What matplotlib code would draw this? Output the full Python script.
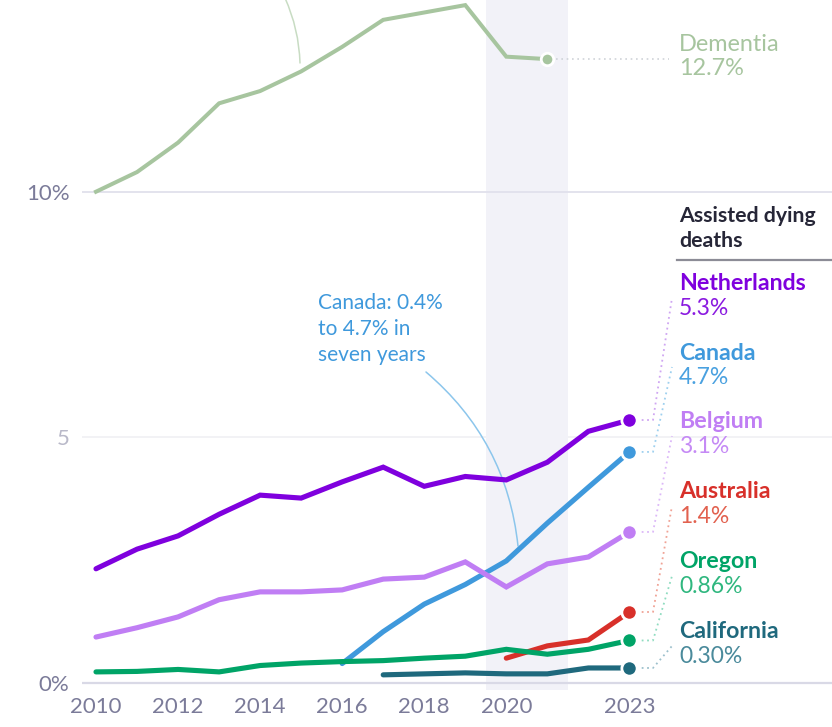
import matplotlib
matplotlib.use("Agg")
import matplotlib.pyplot as plt

plt.rcParams['font.family'] = ['Lato', 'DejaVu Sans']

years = list(range(2010, 2024))
dementia_years = list(range(2010, 2022))
dementia = [10.0, 10.4, 11.0, 11.8, 12.05, 12.45, 12.95, 13.5, 13.65, 13.8, 12.75, 12.7]

netherlands = [2.32, 2.72, 2.99, 3.43, 3.82, 3.76, 4.09, 4.39, 4.0, 4.2, 4.13, 4.49, 5.12, 5.35]
belgium = [0.93, 1.12, 1.34, 1.69, 1.85, 1.85, 1.89, 2.11, 2.15, 2.46, 1.95, 2.42, 2.56, 3.07]
oregon = [0.22, 0.23, 0.27, 0.22, 0.35, 0.40, 0.43, 0.45, 0.50, 0.54, 0.68, 0.58, 0.68, 0.86]
canada_years = list(range(2016, 2024))
canada = [0.39, 1.04, 1.6, 2.0, 2.48, 3.25, 3.98, 4.7]
australia_years = [2020, 2021, 2022, 2023]
australia = [0.5, 0.75, 0.87, 1.44]
california_years = list(range(2017, 2024))
california = [0.16, 0.18, 0.20, 0.18, 0.18, 0.30, 0.30]

series_names = ["Netherlands", "Canada", "Belgium", "Australia", "Oregon", "California"]
series_values_text = ["5.3%", "4.7%", "3.1%", "1.4%", "0.86%", "0.30%"]

xtick_vals = [2010, 2012, 2014, 2016, 2018, 2020, 2023]
ytick_vals = [0, 5, 10]
ytick_labels = ["0%", "5", "10%"]

W, H = 832, 727
fig = plt.figure(figsize=(W / 100, H / 100), dpi=100)

# pixel geometry
x0px, pxyr = 96.0, 41.03
y0px, pxun = 682.7, 49.1
ax_left, ax_right = 82, 832
ylo, yhi = -0.15, 13.9
ax_bot = y0px - ylo * pxun
ax_top = y0px - yhi * pxun
ax = fig.add_axes([ax_left / W, 1 - ax_bot / H, (ax_right - ax_left) / W, (ax_bot - ax_top) / H])
xlo = 2010 + (ax_left - x0px) / pxyr
xhi = 2010 + (ax_right - x0px) / pxyr
ax.set_xlim(xlo, xhi)
ax.set_ylim(ylo, yhi)
for s in ax.spines.values():
    s.set_visible(False)
ax.set_facecolor('none')

def px_x(px):
    return 2010 + (px - x0px) / pxyr

def px_y(py):
    return (y0px - py) / pxun

# gridlines
ax.axhline(10, color='#e1e1ec', lw=1.3, zorder=1)
ax.axhline(5, color='#f1f1f4', lw=1.3, zorder=0.5)
ax.axhline(0, color='#d9d9e6', lw=1.6, zorder=1)

# covid band
ax.axvspan(2019.5, 2021.5, color='#f2f2f8', zorder=0.8, lw=0)

# ticks
ax.set_xticks(xtick_vals)
ax.set_xticklabels([str(v) for v in xtick_vals])
ax.set_yticks(ytick_vals)
ax.set_yticklabels(ytick_labels)
ax.tick_params(axis='both', length=0, labelsize=16, labelcolor='#7b7b99')
ax.tick_params(axis='x', pad=5)
ax.tick_params(axis='y', pad=9)
ax.get_yticklabels()[1].set_color('#b9b9c9')

# colors
c_dem = '#a7c59f'
colors = ['#7f00de', '#3f99dc', '#c07ef4', '#d8302a', '#00a467', '#1f697d']
val_colors = ['#8a1ae0', '#4aa1e0', '#c58af5', '#e2614f', '#2fb77f', '#4a8a9b']
conn_colors = ['#cfa6f2', '#9ed0ef', '#dcb8f8', '#f0a396', '#8fdcc0', '#9cc0cc']

# dementia
ax.plot(dementia_years, dementia, color=c_dem, lw=2.9, solid_joinstyle='miter', zorder=3)
ax.plot([dementia_years[-1]], [dementia[-1]], 'o', color=c_dem, ms=9, mec='white', mew=2, zorder=4)
ax.plot([dementia_years[-1] + 0.2, px_x(669)], [dementia[-1]] * 2, color='#cfd3d8', lw=1.2,
        ls=(0, (1, 2.2)), zorder=2)

all_x = [years, canada_years, years, australia_years, years, california_years]
all_y = [netherlands, canada, belgium, australia, oregon, california]

label_py = [284, 353, 422, 492, 562, 632]
label_x = px_x(679)

for xs, ys, c, vc, cc, name, vt, lpy in zip(all_x, all_y, colors, val_colors, conn_colors,
                                           series_names, series_values_text, label_py):
    ax.plot(xs, ys, color=c, lw=3.7, solid_joinstyle='miter', solid_capstyle='round', zorder=5)
    ax.plot([xs[-1]], [ys[-1]], 'o', color=c, ms=11, mec='white', mew=2, zorder=6)
    # connector
    ax.plot([xs[-1] + 0.3, px_x(653), px_x(672)], [ys[-1], ys[-1], px_y(lpy + 14)],
            color=cc, lw=1.3, ls=(0, (1, 2)), zorder=2, clip_on=False)
    ax.text(label_x, px_y(lpy), name, color=c, fontsize=16.7, fontweight='bold',
            ha='left', va='center', zorder=7)
    ax.text(label_x, px_y(lpy + 24.5), vt, color=vc, fontsize=16.5,
            ha='left', va='center', zorder=7)

# dementia label
ax.text(label_x, px_y(44), "Dementia", color=c_dem, fontsize=16.9, ha='left', va='center')
ax.text(label_x, px_y(68), "12.7%", color=c_dem, fontsize=16.9, ha='left', va='center')

# header
ax.text(label_x, px_y(216), "Assisted dying", color='#262637', fontsize=15.3, fontweight='bold',
        ha='left', va='center')
ax.text(label_x, px_y(241), "deaths", color='#262637', fontsize=15.3, fontweight='bold',
        ha='left', va='center')
ax.plot([px_x(677), px_x(832)], [px_y(260)] * 2, color='#8c8c96', lw=1.6, clip_on=False)

# canada annotation
ax.text(px_x(318), px_y(293), "Canada: 0.4%\nto 4.7% in\nseven years", color='#3f99dc',
        fontsize=15, ha='left', va='top', linespacing=1.36)
ax.annotate("", xy=(px_x(518), px_y(546)), xytext=(px_x(426), px_y(372)),
            arrowprops=dict(arrowstyle='-', color='#8cc6ec', lw=1.1,
                            connectionstyle='arc3,rad=-0.2', shrinkA=0, shrinkB=0), zorder=4)
# dementia annotation connector
ax.annotate("", xy=(px_x(300), px_y(63)), xytext=(px_x(285), px_y(-2)),
            arrowprops=dict(arrowstyle='-', color='#c8dcc3', lw=1.1,
                            connectionstyle='arc3,rad=-0.1', shrinkA=0, shrinkB=0),
            annotation_clip=False, zorder=2)

fig.savefig("out.png", dpi=100, facecolor='white')
